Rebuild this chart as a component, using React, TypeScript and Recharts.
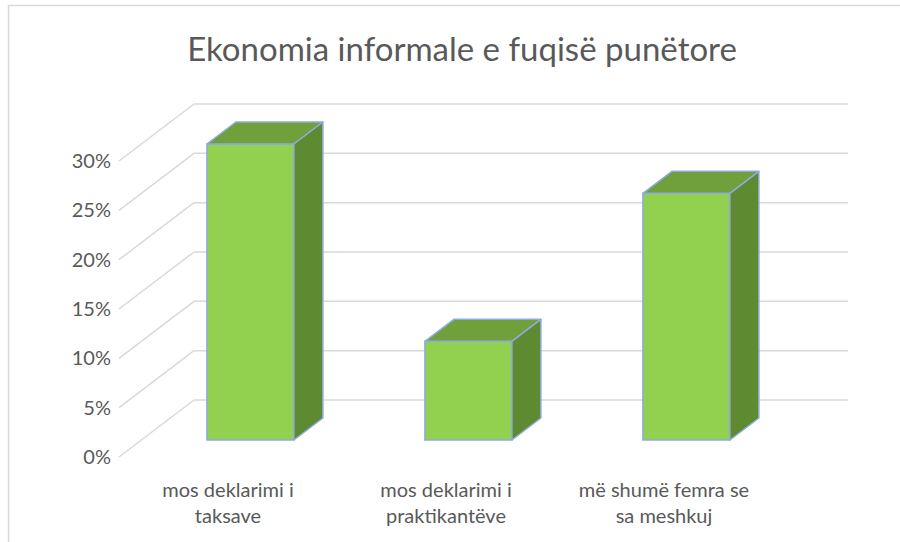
import React from "react";
import { BarChart, Bar, XAxis, YAxis, CartesianGrid } from "recharts";

const TITLE = "Ekonomia informale e fuqisë punëtore";

const categories = [
  "mos deklarimi i taksave",
  "mos deklarimi i praktikantëve",
  "më shumë femra se sa meshkuj",
];
const categoryLines = [
  ["mos deklarimi i", "taksave"],
  ["mos deklarimi i", "praktikantëve"],
  ["më shumë femra se", "sa meshkuj"],
];
const values = [0.3, 0.1, 0.25];
const yTicks = [0, 0.05, 0.1, 0.15, 0.2, 0.25, 0.3];

const data = categories.map((name, i) => ({ name, value: values[i] }));

const FONT = "Lato, 'Open Sans', sans-serif";
const TEXT = "#595959";
const GRID = "#d9d9d9";

// plot area = plane of the bars' front faces
const PLOT = { left: 141.5, right: 795.5, top: 144, bottom: 440 };
const Y_AXIS_W = 60;
const X_AXIS_H = 30;
// oblique offsets from the bar plane to the front / back of the floor
const FRONT = { dx: -22.5, dy: 17 };
const BACK = { dx: 52.5, dy: -40 };
const DEPTH = { dx: 29, dy: -22 }; // bar depth

const wallLine = (props: any) => {
  const { x1, x2, y1, index } = props;
  return (
    <g key={`wall-${index}`}>
      <line
        x1={x1 + FRONT.dx}
        y1={y1 + FRONT.dy}
        x2={x1 + BACK.dx}
        y2={y1 + BACK.dy}
        stroke={GRID}
        strokeWidth={1.5}
      />
      <line
        x1={x1 + BACK.dx}
        y1={y1 + BACK.dy}
        x2={x2 + BACK.dx}
        y2={y1 + BACK.dy}
        stroke={GRID}
        strokeWidth={1.5}
      />
    </g>
  );
};

const Bar3D = (props: any) => {
  const { x, y, width: w, height: h } = props;
  const { dx, dy } = DEPTH;
  const stroke = "#8FAADC";
  return (
    <g>
      <rect x={x} y={y} width={w} height={h} fill="#92D050" stroke={stroke} strokeWidth={1.5} />
      <polygon
        points={`${x},${y} ${x + dx},${y + dy} ${x + w + dx},${y + dy} ${x + w},${y}`}
        fill="#70A03C"
        stroke={stroke}
        strokeWidth={1.5}
        strokeLinejoin="round"
      />
      <polygon
        points={`${x + w},${y} ${x + w + dx},${y + dy} ${x + w + dx},${y + h + dy} ${x + w},${y + h}`}
        fill="#5E8A32"
        stroke={stroke}
        strokeWidth={1.5}
        strokeLinejoin="round"
      />
    </g>
  );
};

const YTick = ({ y, payload }: any) => (
  <text
    x={PLOT.left + FRONT.dx - 8}
    y={y + FRONT.dy}
    dy="0.35em"
    textAnchor="end"
    fontSize={20}
    fontFamily={FONT}
    fill={TEXT}
  >
    {`${Math.round(payload.value * 100)}%`}
  </text>
);

const XTick = ({ x, payload }: any) => {
  const lines = categoryLines[categories.indexOf(payload.value)] || [payload.value];
  const cx = x + FRONT.dx;
  return (
    <text
      x={cx}
      y={PLOT.bottom + FRONT.dy + 40}
      textAnchor="middle"
      fontSize={20}
      fontFamily={FONT}
      fill={TEXT}
    >
      {lines.map((l, i) => (
        <tspan key={i} x={cx} dy={i === 0 ? 0 : 26}>
          {l}
        </tspan>
      ))}
    </text>
  );
};

export default function App() {
  return (
    <div
      style={{
        position: "absolute",
        left: 0,
        top: 0,
        width: 900,
        height: 542,
        background: "#fff",
        overflow: "hidden",
      }}
    >
      <svg width={900} height={542} style={{ position: "absolute", left: 0, top: 0 }}>
        <path d="M8.5 542 V5.5 H900" fill="none" stroke={GRID} strokeWidth={1.5} />
        <text
          x={462}
          y={61}
          textAnchor="middle"
          fontSize={33}
          fontFamily={FONT}
          fill={TEXT}
        >
          {TITLE}
        </text>
      </svg>
      <div style={{ position: "absolute", left: 0, top: 0 }}>
        <BarChart
          width={900}
          height={542}
          data={data}
          barCategoryGap="30%"
          margin={{
            top: PLOT.top,
            right: 900 - PLOT.right,
            bottom: 542 - PLOT.bottom - X_AXIS_H,
            left: PLOT.left - Y_AXIS_W,
          }}
        >
          <CartesianGrid vertical={false} horizontal={wallLine} />
          <XAxis
            dataKey="name"
            height={X_AXIS_H}
            axisLine={false}
            tickLine={false}
            tick={<XTick />}
            interval={0}
          />
          <YAxis
            width={Y_AXIS_W}
            domain={[0, 0.3]}
            ticks={yTicks}
            axisLine={false}
            tickLine={false}
            tick={<YTick />}
            interval={0}
          />
          <Bar dataKey="value" shape={<Bar3D />} isAnimationActive={false} />
        </BarChart>
      </div>
    </div>
  );
}
